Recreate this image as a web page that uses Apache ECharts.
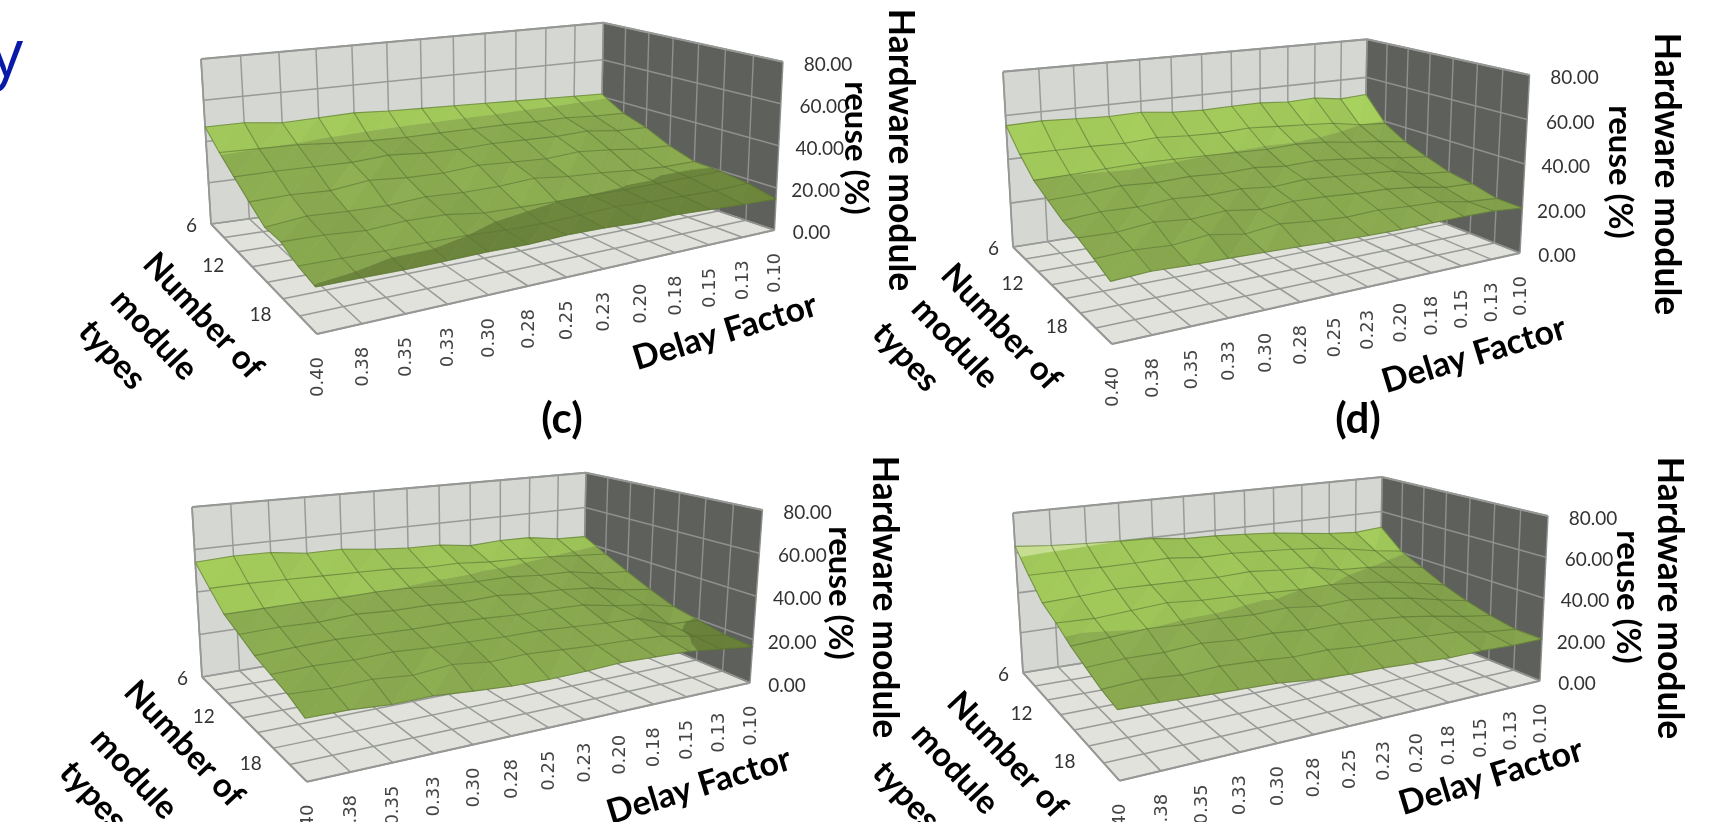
<!DOCTYPE html>
<html><head><meta charset="utf-8">
<style>html,body{margin:0;padding:0;background:#fff}#c{width:1722px;height:822px}</style>
<script src="https://cdn.jsdelivr.net/npm/echarts@6/dist/echarts.min.js"></script>
</head><body><div id="c"></div>
<script>
const delayFactors=['0.40','0.38','0.35','0.33','0.30','0.28','0.25','0.23','0.20','0.18','0.15','0.13','0.10'];
const moduleTypes=[6,8,10,12,14,16,18,20];
const moduleLabels=['6','','','12','','','18',''];
const reuseTicks=[0,20,40,60,80];
const reuseLabels=['0.00','20.00','40.00','60.00','80.00'];
const valuesC=[
[47,47,45,45.5,46,45,44.5,44,43.5,43,42.5,42,41.5],
[40.5,40,39.5,38,37,36.5,36.5,36.5,36.5,36,36,35,34.5],
[35,35,34.5,34,35,33.5,33,33.5,33,32.5,33,31,30.5],
[29.7,30,29,31,29.5,29,30,29,28,29,27.5,25.5,24.7],
[24.7,26.5,25.5,25,26,25,25,26,24,23,21.5,20.5,20.5],
[25,24.5,23,24,23.5,21,20.5,20,19.8,19.5,19.5,19.5,19.7],
[21.5,21,20.5,20.5,20,19,18.5,19,19.5,18.5,18,17.5,18],
[19.8,19.5,19,19,19,18.5,19,18.5,17.5,17.5,16.5,15.5,14.7]];
const valuesD=[
[55.4,55.8,55,54.4,54.7,53,52.4,52.7,52.8,51.7,52.2,50.2,51],
[46.7,46.5,46.3,45.8,46.5,45.5,45,45.5,44.5,43.5,42.5,40,39],
[39.8,40,40.5,40.8,40.5,40,39.5,39,39.5,38.5,36.5,35,32.9],
[36,36.5,37.5,36.5,37,36,36.5,35,35.5,34,32.5,30.5,28.9],
[32.4,33.5,33,34,33,33.5,32,33,32,31,30,26.5,25.2],
[30.5,30,31.5,30,31,29,30,29.5,28.5,28,26.5,24,23.4],
[27.5,28,27,28.5,26,27.5,26,25,25.5,24.5,24,21.5,20.5],
[24.2,25,24.3,24,23.5,23,22.3,21.8,21.6,21.7,21.7,21.5,20.2]];
const valuesE=[
[54,54.9,54.6,52.2,52.2,50.2,48.8,48.4,46.1,46.9,46.6,44,43.3],
[46.5,46.5,46,45.5,45,44.5,43,43,41.5,41,40,38.5,37.2],
[39.6,39.8,40,39.5,40,39.5,38.5,38,38,36.5,36,33,31.6],
[36,36.5,36,37,36,36,35,35.5,34,33.5,32,28.5,26.4],
[32.3,33,33.5,33,32.5,32.5,32,31,31,30.5,27.5,25.5,21.9],
[30,30.5,30,30.5,29.5,29,28.5,28.5,27.5,26.5,26,20.5,19.6],
[27.8,27,27.5,26,27.5,25.5,26,25,24,23.5,22.5,19.5,17.4],
[24.3,24.2,23,23.2,21.9,20.8,20.5,20.8,21.5,21,20.5,18.5,16.7]];
const valuesF=[
[63.3,61.7,60.7,60,59.5,57.4,57,56,54.8,52.8,50.9,49.7,50.9],
[54.2,54,53.5,53.5,53.8,52,52,51,50,48.5,46,43,40.8],
[46.4,47,48,47.5,47,46.5,47,45.5,44.5,41,40,38,35.5],
[42.7,42,43,44,42.5,42,41,40,40,38.5,36.5,33.5,30],
[38.1,39,40,39,39,38,38.5,36.5,37,35,32.5,29,25.8],
[34.8,35.5,35,36,34.5,34.5,33,33,32,30.5,28,25,22.6],
[31.7,32.5,31,31.5,30.5,29,29,27.5,27,26,25,22,20.3],
[29.8,29.1,28.1,27.3,26.5,24.5,23.5,23,22,21,21,20.3,20.2]];

const bandTop=[20,40,60,80];
const bandColors=[[112,138,62],[140,172,81],[157,196,88],[196,218,144]];

const FONT='Lato';
const COL_WARP=1.2,ROW_WARP=1.18;
const layouts=[
 {values:valuesC,tag:'(c)',tagPos:[562,419],
  L:[211,224],B:[600.5,171],R:[774.5,230],F:[317,334],Lt:[201,59],Bt:[603.4,22.7],Rt:[783,61.7],Ft:[311,144],
  hw:[900,150],re:[856,148],num:[[203,316],[154,335],[112,355]],delay:[725,332]},
 {values:valuesD,tag:'(d)',tagPos:[1358,419],
  L:[1013,247],B:[1364,191.5],R:[1520,253],F:[1112,344],Lt:[1003,71.7],Bt:[1367,39.3],Rt:[1529.6,75],Ft:[1107,137],
  hw:[1666,174],re:[1620,172],num:[[1001,327],[955,343],[906,357]],delay:[1474,355]},
 {values:valuesE,tag:'',tagPos:[0,0],
  L:[202,677],B:[583,612],R:[750,682.7],F:[307,781.7],Lt:[192,507],Bt:[586,472.7],Rt:[762.5,510],Ft:[301,573],
  hw:[884,597],re:[840,593],num:[[184,744],[134,774],[93,796]],delay:[699,786]},
 {values:valuesF,tag:'',tagPos:[0,0],
  L:[1023,672.7],B:[1380,615],R:[1540,680.7],F:[1119.5,780.7],Lt:[1013,513],Bt:[1382,477],Rt:[1548,516],Ft:[1114,590],
  hw:[1669,598],re:[1628,597],num:[[1007,755],[955,769],[906,796]],delay:[1491,777]}
];

function bilinear(a,b,c,d){
  return (u,v)=>{
    const x=(1-v)*((1-u)*a[0]+u*b[0])+v*((1-u)*d[0]+u*c[0]);
    const y=(1-v)*((1-u)*a[1]+u*b[1])+v*((1-u)*d[1]+u*c[1]);
    return [x,y];
  };
}
const warpCol=t=>t*COL_WARP/(1+t*(COL_WARP-1));
const warpRow=t=>t/(ROW_WARP*(1-t)+t);
const projectors=layouts.map(p=>{
  const fl=bilinear(p.L,p.B,p.R,p.F),tp=bilinear(p.Lt,p.Bt,p.Rt,p.Ft);
  const nc=delayFactors.length-1,nr=moduleTypes.length-1,zMax=reuseTicks[reuseTicks.length-1];
  return (col,row,z)=>{const u=warpCol(col/nc),v=warpRow(row/nr),a=fl(u,v),b=tp(u,v),t=z/zMax;return [a[0]+(b[0]-a[0])*t,a[1]+(b[1]-a[1])*t];};
});

function clipBand(tri,lo,hi){
  function clip(poly,test,cross){
    const out=[];
    for(let i=0;i<poly.length;i++){
      const a=poly[i],b=poly[(i+1)%poly.length];
      const ia=test(a),ib=test(b);
      if(ia)out.push(a);
      if(ia!==ib){const t=(cross-a[2])/(b[2]-a[2]);out.push([a[0]+(b[0]-a[0])*t,a[1]+(b[1]-a[1])*t,cross]);}
    }
    return out;
  }
  let p=clip(tri,q=>q[2]>=lo,lo);
  if(p.length)p=clip(p,q=>q[2]<=hi,hi);
  return p;
}
function shadeColor(rgb,f){return 'rgb('+rgb.map(c=>Math.max(0,Math.min(255,Math.round(c*f)))).join(',')+')';}

function facetItem(pi){
  return function(params,api){
    const col=api.value(0),row=api.value(1),z00=api.value(2),z10=api.value(3),z01=api.value(4),z11=api.value(5);
    const P=projectors[pi];
    const mk=(c,r,z)=>{const q=P(c,r,z);return [q[0],q[1],z];};
    const a=mk(col,row,z00),b=mk(col+1,row,z10),c=mk(col,row+1,z01),d=mk(col+1,row+1,z11);
    const tris=[{v:[a,b,c],dc:z10-z00,dr:z01-z00},{v:[d,b,c],dc:z11-z01,dr:z11-z10}];
    const children=[];
    tris.forEach(t=>{
      const f=1+0.02*t.dc-0.01*(t.dr+4.5);
      let lo=0;
      bandTop.forEach((hi,bi)=>{
        const poly=clipBand(t.v,lo,hi);
        lo=hi;
        if(poly.length>2){
          const col2=shadeColor(bandColors[bi],f);
          children.push({type:'polygon',shape:{points:poly.map(q=>[q[0],q[1]])},style:{fill:col2,stroke:col2,lineWidth:0.6}});
        }
      });
    });
    return {type:'group',children};
  };
}
function meshItem(pi){
  return function(params,api){
    const P=projectors[pi],vals=layouts[pi].values;
    const kind=api.value(0),idx=api.value(1),pts=[];
    if(kind===0){vals[idx].forEach((z,c)=>pts.push(P(c,idx,z)));}
    else{vals.forEach((r,ri)=>pts.push(P(idx,ri,r[idx])));}
    return {type:'polyline',shape:{points:pts},style:{fill:null,stroke:'rgba(88,114,50,0.62)',lineWidth:1.1}};
  };
}
function frameItem(pi){
  return function(){
    const P=projectors[pi],nc=delayFactors.length-1,nr=moduleTypes.length-1,zm=80,ch=[];
    const poly=(pts,fill)=>ch.push({type:'polygon',shape:{points:pts},style:{fill}});
    const line=(a,b,s,w)=>ch.push({type:'line',shape:{x1:a[0],y1:a[1],x2:b[0],y2:b[1]},style:{stroke:s,lineWidth:w}});
    const lightLine='#999b98',darkLine='#8f908e',floorLine='#999b98';
    poly([P(0,0,0),P(nc,0,0),P(nc,0,zm),P(0,0,zm)],'#d5d7d2');
    poly([P(nc,0,0),P(nc,nr,0),P(nc,nr,zm),P(nc,0,zm)],'#5e605b');
    poly([P(0,0,0),P(nc,0,0),P(nc,nr,0),P(0,nr,0)],'#e0e2db');
    for(let c=0;c<=nc;c++){line(P(c,0,0),P(c,0,zm),lightLine,1.5);line(P(c,0,0),P(c,nr,0),floorLine,1.5);}
    for(let r=0;r<=nr;r++){line(P(nc,r,0),P(nc,r,zm),darkLine,1.4);line(P(0,r,0),P(nc,r,0),floorLine,1.5);}
    reuseTicks.forEach(z=>{line(P(0,0,z),P(nc,0,z),lightLine,1.7);line(P(nc,0,z),P(nc,nr,z),darkLine,1.6);});
    line(P(0,nr,0),P(nc,nr,0),'#969895',2);line(P(0,0,0),P(0,nr,0),'#969895',2);
    line(P(0,0,0),P(0,0,zm),'#969895',1.8);line(P(0,0,zm),P(nc,0,zm),'#969895',2);
    line(P(nc,0,zm),P(nc,nr,zm),'#969895',2);
    return {type:'group',children:ch};
  };
}
function labelItem(pi){
  return function(){
    const P=projectors[pi],p=layouts[pi],nc=delayFactors.length-1,nr=moduleTypes.length-1,ch=[];
    const txt=(s,x,y,font,deg,fill,align)=>ch.push({type:'text',x,y,rotation:(deg||0)*Math.PI/180,
      style:{text:s,font,fill:fill||'#000',align:align||'center',verticalAlign:'middle'}});
    const tickFont='400 19px '+FONT;
    reuseTicks.forEach((z,i)=>{const q=P(nc,nr,z);txt(reuseLabels[i],q[0]+37+8*z/80,q[1]+3,tickFont,0,'#333');});
    const rowOff=[-14,0,0,-28,0,0,-28,0],rowY=[2,0,0,-1,0,0,-1,0];
    moduleLabels.forEach((s,r)=>{if(!s)return;const q=P(0,r,0);txt(s,q[0]+rowOff[r],q[1]+rowY[r],tickFont,0,'#333','right');});
    delayFactors.forEach((s,c)=>{const q=P(c,nr,0);txt(s,q[0]+1,q[1]+43,'400 18px "DejaVu Sans"',90,'#444');});
    txt('Hardware module',p.hw[0],p.hw[1],'700 35.5px '+FONT,-90);
    txt('reuse (%)',p.re[0],p.re[1],'700 33px '+FONT,-90);
    ['Number of','module','types'].forEach((s,i)=>txt(s,p.num[i][0],p.num[i][1],'700 33px '+FONT,-47));
    txt('Delay Factor',p.delay[0],p.delay[1],'700 34px '+FONT,17);
    if(p.tag)txt(p.tag,p.tagPos[0],p.tagPos[1],'700 42px '+FONT,0);
    return {type:'group',children:ch};
  };
}
const series=[];
layouts.forEach((p,pi)=>{
  const base={type:'custom',coordinateSystem:'none',silent:true,animation:false,clip:false};
  series.push(Object.assign({},base,{z:1,data:[[pi]],renderItem:frameItem(pi)}));
  const cells=[];
  for(let r=0;r<moduleTypes.length-1;r++)for(let c=delayFactors.length-2;c>=0;c--)
    cells.push([c,r,p.values[r][c],p.values[r][c+1],p.values[r+1][c],p.values[r+1][c+1]]);
  series.push(Object.assign({},base,{z:2,data:cells,renderItem:facetItem(pi)}));
  const mesh=[];
  moduleTypes.forEach((m,r)=>mesh.push([0,r]));
  delayFactors.forEach((d,c)=>mesh.push([1,c]));
  series.push(Object.assign({},base,{z:3,data:mesh,renderItem:meshItem(pi)}));
  series.push(Object.assign({},base,{z:4,data:[[pi]],renderItem:labelItem(pi)}));
});
const chart=echarts.init(document.getElementById('c'),null,{renderer:'canvas'});
chart.setOption({animation:false,backgroundColor:'#fff',
  graphic:[{type:'text',left:-10,top:24,style:{text:'y',font:'400 66px "Open Sans"',fill:'#0a1aa8'}}],
  series});
</script></body></html>
